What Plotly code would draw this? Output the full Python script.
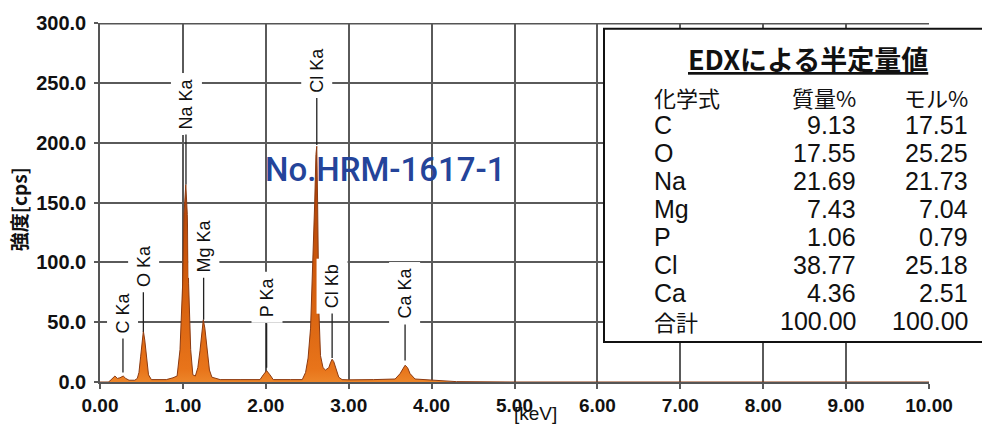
import plotly.graph_objects as go

# ---------------- data ----------------
energy_kev = [0.00, 0.10, 0.12, 0.15, 0.18, 0.21, 0.24, 0.28, 0.31, 0.35,
              0.42, 0.45, 0.47, 0.49, 0.51, 0.523, 0.54, 0.563, 0.585, 0.62,
              0.70, 0.80, 0.88, 0.93, 0.965, 0.997, 1.013, 1.035, 1.053, 1.069,
              1.094, 1.12, 1.15, 1.18, 1.206, 1.23, 1.246, 1.265, 1.295, 1.32,
              1.35, 1.45, 1.70, 1.93, 1.97, 2.01, 2.05, 2.09, 2.30, 2.44,
              2.48, 2.51, 2.54, 2.57, 2.59, 2.605, 2.615, 2.625, 2.64, 2.66,
              2.69, 2.72, 2.76, 2.78, 2.80, 2.82, 2.855, 2.88, 2.92, 3.00,
              3.30, 3.56, 3.62, 3.66, 3.68, 3.71, 3.74, 3.80, 3.95, 4.10,
              4.20, 4.30, 5.00, 10.00]
intensity_cps = [0, 0, 1, 3, 5, 3, 3.5, 5, 3, 1.5,
                 1.5, 3, 8, 21, 38, 42.5, 35, 21, 6, 2,
                 1.8, 2, 3.5, 5, 27, 82, 140, 165, 140, 82,
                 27, 6, 5, 12, 26, 45, 52, 45, 26, 10,
                 4, 2, 2, 2, 6, 9.5, 6, 2, 2, 2,
                 8, 20, 45, 100, 150, 190, 197, 150, 60, 22,
                 12, 10, 12, 16, 19, 17, 10, 4, 2, 1.8,
                 2, 2.5, 7, 12, 14, 12, 7, 2.5, 1.8, 1.5,
                 0.8, 0.3, 0, 0]

peak_labels = ["C Ka", "O Ka", "Na Ka", "Mg Ka", "P Ka", "Cl Ka", "Cl Kb", "Ca Ka"]
peak_kev = [0.277, 0.523, 1.037, 1.250, 2.010, 2.615, 2.800, 3.680]
peak_tip_cps = [8, 42, 165, 52, 12, 198, 20, 18]
label_offset_px = [60, 66, 81, 74, 70, 75, 72, 67]

x_ticks = [0, 1, 2, 3, 4, 5, 6, 7, 8, 9, 10]
y_ticks = [0, 50, 100, 150, 200, 250, 300]

sample_name = "No.HRM-1617-1"
table_title = "EDXによる半定量値"
table_header = ["化学式", "質量%", "モル%"]
elements = ["C", "O", "Na", "Mg", "P", "Cl", "Ca", "合計"]
mass_pct = ["9.13", "17.55", "21.69", "7.43", "1.06", "38.77", "4.36", "100.00"]
mol_pct = ["17.51", "25.25", "21.73", "7.04", "0.79", "25.18", "2.51", "100.00"]

# ---------------- layout helpers ----------------
W, H = 982, 428
ML, MR, MT, MB = 100, 53, 14, 38
PW, PH = W - ML - MR, H - MT - MB


def px2x(px):
    return (px - ML) / PW


def py2y(py):
    return (H - MB - py) / PH


fig = go.Figure()
fig.add_trace(go.Scatter(
    x=energy_kev, y=intensity_cps, mode="lines",
    line=dict(color="#8c3a10", width=1),
    fill="tozeroy",
    fillgradient=dict(type="vertical", start=0, stop=200,
                      colorscale=[[0, "#f29b3c"], [0.12, "#e8741a"],
                                  [0.5, "#d05a0c"], [1, "#a03808"]]),
    hoverinfo="skip", showlegend=False,
))

ann = []
lab_font = dict(family="Liberation Sans, Arial, sans-serif", size=18, color="#111")
for name, kev, tip, off in zip(peak_labels, peak_kev, peak_tip_cps, label_offset_px):
    ann.append(dict(x=kev, y=tip, xref="x", yref="y", text=name, textangle=-90,
                    showarrow=True, arrowhead=0, arrowwidth=1.3, arrowcolor="#222",
                    ax=0, ay=-off, bgcolor="white", borderpad=5, font=lab_font))

# sample name
ann.append(dict(x=px2x(385), y=py2y(167), xref="paper", yref="paper", text=sample_name,
                showarrow=False, xanchor="center", yanchor="middle",
                font=dict(family="Roboto, sans-serif", size=33, color="#24449a",
                          weight=500)))

# axis titles
ann.append(dict(x=px2x(18), y=py2y(209), xref="paper", yref="paper", text="強度[cps]",
                textangle=-90, showarrow=False, xanchor="center", yanchor="middle",
                font=dict(family="Noto Sans CJK JP", size=19, color="#111", weight="bold")))
ann.append(dict(x=px2x(535), y=py2y(423), xref="paper", yref="paper", text="[keV]",
                showarrow=False, xanchor="center", yanchor="middle",
                font=dict(family="Liberation Sans, Arial", size=19, color="#111")))

# table
latin_font = "Liberation Sans, Arial, sans-serif"
cjk_font = "Noto Sans CJK JP, sans-serif"
ann.append(dict(x=px2x(808), y=py2y(51), xref="paper", yref="paper", text=table_title,
                showarrow=False, xanchor="center", yanchor="middle",
                font=dict(family=cjk_font, size=27, color="#111", weight="bold",
                          lineposition="under")))
row0, step = 91, 29.2
col_x = [652, 858, 970]
col_anchor = ["left", "right", "right"]
for c, txt in enumerate(table_header):
    ann.append(dict(x=px2x(col_x[c]), y=py2y(row0), xref="paper", yref="paper", text=txt,
                    showarrow=False, xanchor=col_anchor[c], yanchor="middle",
                    font=dict(family=cjk_font, size=22, color="#111")))
for r, (el, m1, m2) in enumerate(zip(elements, mass_pct, mol_pct)):
    yy = py2y(row0 + 1 + step * (r + 1))
    for c, txt in enumerate([el, m1, m2]):
        is_cjk = any(ord(ch) > 0x2E80 for ch in txt)
        ann.append(dict(x=px2x(col_x[c]), y=yy, xref="paper", yref="paper", text=txt,
                        showarrow=False, xanchor=col_anchor[c], yanchor="middle",
                        font=dict(family=cjk_font if is_cjk else latin_font,
                                  size=22 if is_cjk else 25, color="#111")))

shapes = [
    dict(type="line", xref="x", yref="y", x0=0, x1=10, y0=300, y1=300,
         line=dict(color="#555", width=3), layer="above"),
    dict(type="rect", xref="paper", yref="paper", x0=px2x(604), x1=px2x(1000),
         y0=py2y(348), y1=py2y(20), line=dict(color="#111", width=2),
         fillcolor="white", layer="above"),
]

tick_font = dict(family="Liberation Sans, Arial", size=19, color="#111", weight="bold")
fig.update_layout(
    width=W, height=H, autosize=False,
    margin=dict(l=ML, r=MR, t=MT, b=MB, pad=0),
    paper_bgcolor="white", plot_bgcolor="white",
    showlegend=False,
    annotations=ann, shapes=shapes,
    xaxis=dict(range=[0, 10], tickvals=x_ticks, tickformat=".2f",
               showgrid=True, gridcolor="#5a5a5a", gridwidth=1.5,
               ticks="outside", ticklen=5, tickcolor="#5a5a5a", tickwidth=1.5,
               showline=True, linecolor="#555", linewidth=1.5, zeroline=False,
               tickfont=tick_font, fixedrange=True),
    yaxis=dict(range=[0, 300], tickvals=y_ticks, tickformat=".1f",
               showgrid=True, gridcolor="#5a5a5a", gridwidth=1.5,
               ticks="outside", ticklen=4, tickcolor="#5a5a5a", tickwidth=1.5,
               ticklabelstandoff=4,
               showline=True, linecolor="#555", linewidth=1.5, zeroline=False,
               tickfont=dict(family="Liberation Sans, Arial", size=20, color="#111",
                             weight="bold"),
               fixedrange=True),
)

fig.write_html("out.html")
